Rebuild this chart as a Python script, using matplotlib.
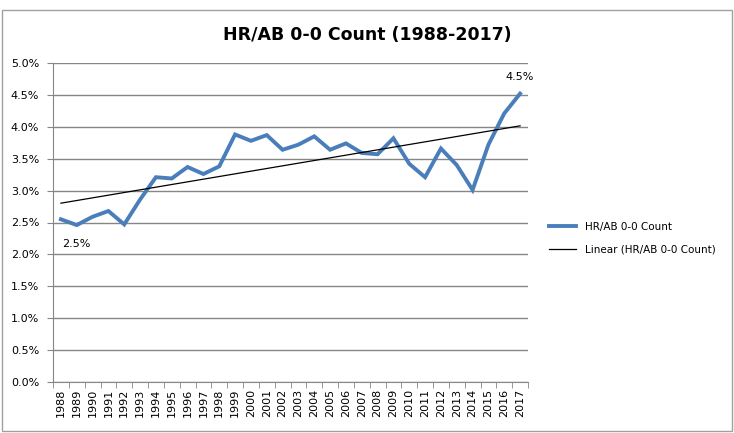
"""HR/AB on 0-0 counts, 1988-2017."""
import numpy as np
import matplotlib.pyplot as plt
from matplotlib.ticker import FuncFormatter, FixedLocator

# -------------------------------------------------------
# Data.
# -------------------------------------------------------
years = list(range(1988, 2018))
hr_ab = [2.55, 2.46, 2.59, 2.68, 2.47, 2.86, 3.21, 3.19, 3.37, 3.26,
         3.38, 3.88, 3.78, 3.87, 3.64, 3.72, 3.85, 3.64, 3.74, 3.59,
         3.57, 3.82, 3.42, 3.21, 3.66, 3.40, 3.01, 3.72, 4.21, 4.52]
series_name = "HR/AB 0-0 Count"
title = "HR/AB 0-0 Count (1988-2017)"

# -------------------------------------------------------
# Plot setup.
# -------------------------------------------------------
W, H = 734, 433
grid_col = "#868686"
line_col = "#4a7ebb"

fig = plt.figure(figsize=(W / 100, H / 100), dpi=100)
ax = fig.add_axes([53 / W, (H - 382) / H, (528 - 53) / W, (382 - 63) / H])

x = np.arange(len(years))
ax.plot(x, hr_ab, color=line_col, lw=2.8, solid_joinstyle="miter",
        label=series_name, zorder=3)

# linear trendline
coef = np.polyfit(x, hr_ab, 1)
ax.plot(x, np.polyval(coef, x), color="black", lw=0.9,
        label="Linear (%s)" % series_name, zorder=4)

# data labels
ax.annotate("%.1f%%" % hr_ab[1], (x[1], hr_ab[1]), xytext=(0, -14),
            textcoords="offset points", ha="center", va="center", fontsize=8)
ax.annotate("%.1f%%" % hr_ab[-1], (x[-1], hr_ab[-1]), xytext=(0, 12),
            textcoords="offset points", ha="center", va="center", fontsize=8)

# axes
ax.set_xlim(-0.5, len(years) - 0.5)
ax.set_ylim(0, 5.0)
ax.set_yticks(np.arange(0, 5.01, 0.5))
ax.yaxis.set_major_formatter(FuncFormatter(lambda v, p: "%.1f%%" % v))
ax.set_xticks(x)
ax.set_xticklabels([str(y) for y in years], rotation=90, fontsize=8)
ax.xaxis.set_minor_locator(FixedLocator(np.arange(-0.5, len(years), 1)))
ax.tick_params(axis="x", which="major", length=0, pad=5)
ax.tick_params(axis="x", which="minor", length=4, color=grid_col)
ax.tick_params(axis="y", length=4, color=grid_col, labelsize=8, pad=6)
ax.grid(axis="y", color=grid_col, lw=1)
ax.set_axisbelow(True)
for side in ["top", "right"]:
    ax.spines[side].set_visible(False)
for side in ["left", "bottom"]:
    ax.spines[side].set_color(grid_col)

# title and legend
fig.text(367 / W, 1 - 35 / H, title, ha="center", va="center",
         fontsize=12.5, fontweight="bold")
fig.legend(loc="center left", bbox_to_anchor=(540 / W, 1 - 238 / H),
           frameon=False, fontsize=7.5, handlelength=2.6, labelspacing=1.2)

# outer chart border
fig.patches.append(plt.Rectangle((2 / W, 2 / H), 1 - 4 / W, 1 - 12 / H,
                                 transform=fig.transFigure, fill=False,
                                 ec="#a0a0a0", lw=1))

fig.savefig("out.png", dpi=100)
